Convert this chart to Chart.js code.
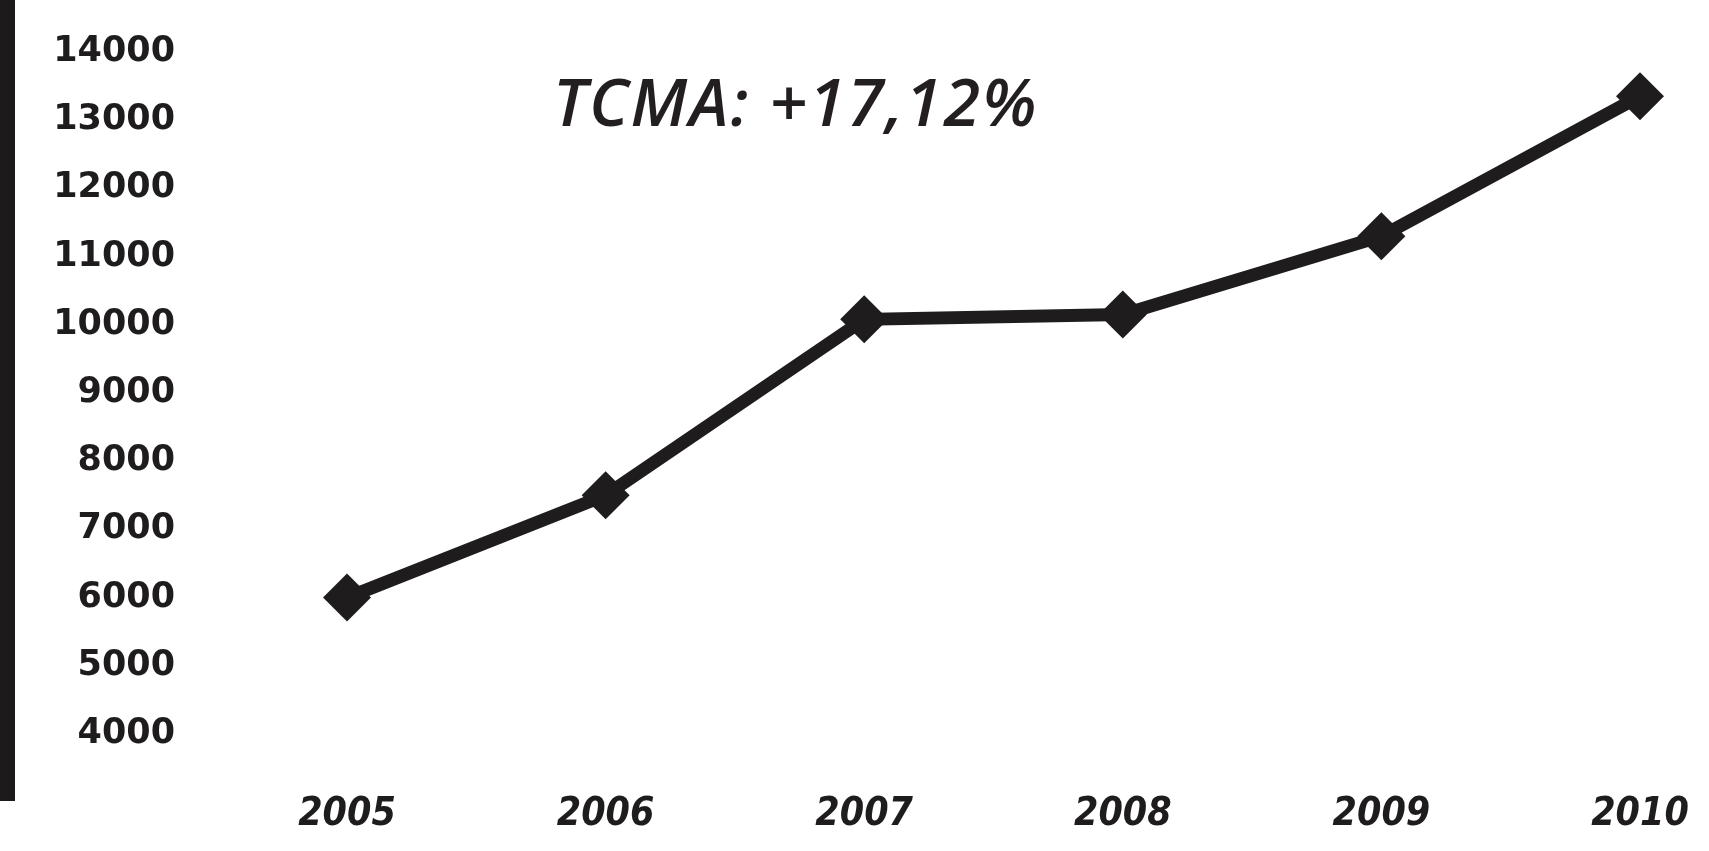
<!DOCTYPE html>
<html>
<head>
<meta charset="utf-8">
<script src="https://cdn.jsdelivr.net/npm/chart.js@4"></script>
<style>
  body { margin: 0; background: #fff; }
  #wrap { position: relative; width: 1709px; height: 851px; }
  #scanEdge { position: absolute; left: 0; top: 0; width: 15px; height: 801px; background: #1c1a1b; }
  #tcma {
    position: absolute; left: 553px; top: 55px; line-height: 66px;
    font: italic 600 66px "Open Sans", "DejaVu Sans", sans-serif;
    letter-spacing: 2px;
    color: #231f20; white-space: nowrap;
  }
</style>
</head>
<body>
<div id="wrap">
  <canvas id="graficoTCMA"></canvas>
  <div id="scanEdge"></div>
  <div id="tcma">TCMA: +17,12%</div>
</div>
<script>
// data
const years = ['2005', '2006', '2007', '2008', '2009', '2010'];
const valores = [6000, 7500, 10080, 10150, 11300, 13350];
const yTicks = [4000, 5000, 6000, 7000, 8000, 9000, 10000, 11000, 12000, 13000, 14000];

document.addEventListener("DOMContentLoaded", function () {
    const ctx = document.getElementById('graficoTCMA').getContext('2d');
    new Chart(ctx, {
        type: 'line',
        data: {
            labels: years,
            datasets: [{
                data: valores,
                borderColor: '#1f1c1d',
                backgroundColor: '#1f1c1d',
                borderWidth: 13,
                pointStyle: 'rectRot',
                pointRadius: 24,
                pointBorderWidth: 0,
                fill: false,
                tension: 0,
                clip: false
            }]
        },
        options: {
            responsive: true,
            maintainAspectRatio: false,
            animation: false,
            layout: { padding: { top: 52, right: 69, left: 0, bottom: 0 } },
            plugins: { legend: { display: false }, tooltip: { enabled: false } },
            scales: {
                x: {
                    // invisible tick marks used only as spacing for the labels
                    grid: { display: true, drawOnChartArea: false, drawTicks: true, tickLength: 57, tickColor: 'rgba(0,0,0,0)', color: 'rgba(0,0,0,0)' },
                    border: { display: false },
                    ticks: {
                        color: '#1f1c1d',
                        padding: 0,
                        maxRotation: 0,
                        font: { family: '"Liberation Sans Narrow", "DejaVu Sans Condensed", sans-serif', size: 39, weight: 'bold', style: 'italic' }
                    },
                    afterFit: function (axis) { axis.height = 117; }
                },
                y: {
                    min: yTicks[0],
                    max: yTicks[yTicks.length - 1],
                    afterBuildTicks: function (axis) { axis.ticks = yTicks.map(v => ({ value: v })); },
                    grid: { display: true, drawOnChartArea: false, drawTicks: true, tickLength: 172, tickColor: 'rgba(0,0,0,0)', color: 'rgba(0,0,0,0)' },
                    border: { display: false },
                    ticks: {
                        color: '#1f1c1d',
                        padding: 0,
                        callback: function (v) { return String(v); },
                        font: { family: '"DejaVu Sans", sans-serif', size: 35, weight: 'bold' }
                    },
                    afterFit: function (axis) { axis.width = 347; }
                }
            }
        }
    });
});
</script>
</body>
</html>
